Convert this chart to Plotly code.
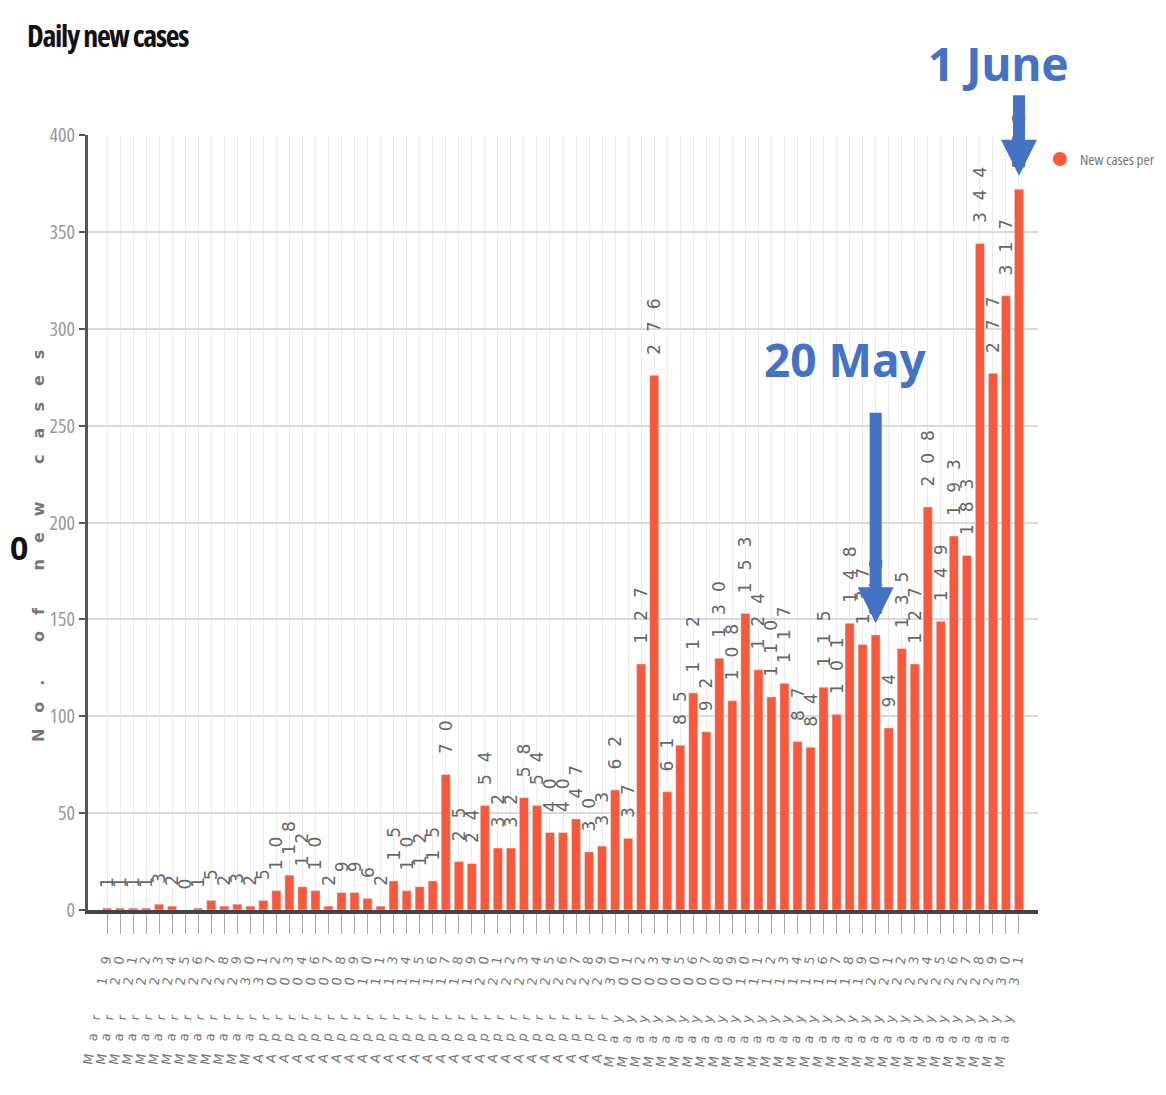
import plotly.graph_objects as go

# ---------------------------------------------------------------------
# Data
# ---------------------------------------------------------------------
DAYS_MAR = ["19", "20", "21", "22", "23", "24", "25", "26", "27", "28", "29", "30", "31"]
DAYS_APR = ["02", "03", "04", "06", "07", "08", "09", "10", "11", "13", "14", "15", "16",
            "17", "18", "19", "20", "21", "22", "23", "24", "25", "26", "27", "28", "29", "30"]
DAYS_MAY = ["01", "02", "03", "04", "05", "06", "07", "08", "09", "10", "11", "12", "13",
            "14", "15", "16", "17", "18", "19", "20", "21", "22", "23", "24", "25", "26",
            "27", "28", "29", "30", "31"]

DATES = (["Mar " + d for d in DAYS_MAR]
         + ["Apr " + d for d in DAYS_APR]
         + ["May " + d for d in DAYS_MAY])

NEW_CASES = [
    1, 1, 1, 1, 3, 2, 0, 1, 5, 2, 3, 2, 5, 10, 18, 12, 10, 2,
    9, 9, 6, 2, 15, 10, 12, 15, 70, 25, 24, 54, 32, 32, 58, 54, 40, 40, 47,
    30, 33, 62, 37, 127, 276, 61, 85, 112, 92, 130, 108, 153, 124, 110, 117, 87, 84,
    115, 101, 148, 137, 142, 94, 135, 127, 208, 149, 193, 183,
    344, 277, 317, 372,
]

Y_TICKS = [0, 50, 100, 150, 200, 250, 300, 350, 400]

BAR_RED = "#F9583B"
NOTE_BLUE = "#4472C4"


def narrow(s, extra=""):
    return f'<span style="font-stretch:62.5%;{extra}">{s}</span>'


# ---------------------------------------------------------------------
# Figure
# ---------------------------------------------------------------------
fig = go.Figure()

fig.add_trace(
    go.Bar(
        x=DATES,
        y=NEW_CASES,
        marker_color=BAR_RED,
        # leading space keeps the value a little above the bar, as in the source
        text=[f'<span style="letter-spacing:12px"> {v}</span>' for v in NEW_CASES],
        textposition="outside",
        textangle=-90,
        constraintext="none",
        cliponaxis=False,
        textfont=dict(family="DejaVu Sans", size=17, color="#666"),
        showlegend=False,
    )
)

# legend-only entry with round marker
fig.add_trace(
    go.Scatter(
        x=[None], y=[None],
        mode="markers",
        marker=dict(color=BAR_RED, size=14, symbol="circle"),
        name=narrow("New cases per"),
        showlegend=True,
    )
)

# page body adds 8px, so the figure is 8px smaller than the window
fig.update_layout(
    width=1158,
    height=1087,
    paper_bgcolor="white",
    plot_bgcolor="white",
    margin=dict(l=80, r=128, t=127, b=185, autoexpand=False),
    bargap=0.3,
    legend=dict(
        x=1.002, xanchor="left", y=0.99, yanchor="top",
        font=dict(family="Open Sans, Liberation Sans", size=15, color="#777"),
        itemwidth=30,
    ),
)

fig.update_xaxes(
    type="category",
    range=[-1.46, len(DATES) + 0.46],
    tickmode="array",
    tickvals=DATES,
    ticktext=[f'<span style="letter-spacing:13px">{d}</span>' for d in DATES],
    tickangle=-80,
    tickfont=dict(family="DejaVu Sans", size=13, color="#777"),
    ticks="outside",
    ticklen=20,
    tickcolor="#aaa",
    showgrid=True,
    gridcolor="#ebebeb",
    gridwidth=1,
    showline=True,
    linecolor="#444",
    linewidth=4,
)

fig.update_yaxes(
    range=[0, 400],
    tickvals=Y_TICKS,
    ticktext=[narrow(t) for t in Y_TICKS],
    tickfont=dict(family="Open Sans, Liberation Sans", size=20, color="#999"),
    ticks="outside",
    ticklen=6,
    tickwidth=2,
    tickcolor="#555",
    showgrid=True,
    gridcolor="#d9d9d9",
    gridwidth=1.5,
    showline=True,
    linecolor="#555",
    linewidth=3,
    zeroline=False,
)

# title + axis title as annotations (exact placement)
fig.add_annotation(
    text="<b>" + narrow("Daily new cases", "letter-spacing:-1.3px") + "</b>",
    xref="paper", yref="paper", x=-0.066, y=1.158,
    xanchor="left", yanchor="top", showarrow=False,
    font=dict(family="Open Sans, Liberation Sans", size=30, color="#111"),
)
fig.add_annotation(
    text='<b><span style="letter-spacing:16px">No. of new cases</span></b>',
    xref="paper", yref="paper", x=-0.0526, y=0.48,
    xanchor="center", yanchor="middle",
    textangle=-90, showarrow=False,
    font=dict(family="DejaVu Sans", size=16, color="#777"),
)
fig.add_annotation(
    text="<b>0</b>",
    xref="paper", yref="paper", x=-0.061, y=0.468,
    xanchor="right", yanchor="middle", showarrow=False,
    font=dict(family="Noto Sans", size=32, color="#111"),
)

# callouts
fig.add_annotation(
    text="<b>1 June</b>",
    xref="paper", yref="paper", x=0.958, y=1.093,
    xanchor="center", yanchor="middle", showarrow=False,
    font=dict(family="Noto Sans", size=46, color=NOTE_BLUE),
)
fig.add_annotation(
    text="", x=DATES[-1], y=379, ax=0, ay=-82,
    showarrow=True, arrowhead=2, arrowwidth=12, arrowsize=0.6,
    arrowcolor=NOTE_BLUE,
)
fig.add_annotation(
    text="<b>20 May</b>",
    xref="paper", yref="paper", x=0.797, y=0.711,
    xanchor="center", yanchor="middle", showarrow=False,
    font=dict(family="Noto Sans", size=46, color=NOTE_BLUE),
)
fig.add_annotation(
    text="", x="May 20", y=148, ax=0, ay=-212,
    showarrow=True, arrowhead=2, arrowwidth=12, arrowsize=0.6,
    arrowcolor=NOTE_BLUE,
)

fig.write_html("out.html")
